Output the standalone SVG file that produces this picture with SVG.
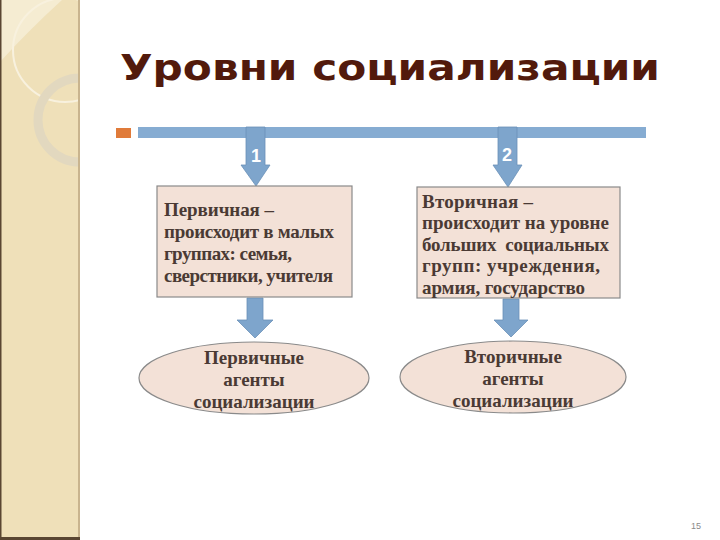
<svg xmlns="http://www.w3.org/2000/svg" width="720" height="540" viewBox="0 0 720 540">
<style>
.box{fill:#f3e1d7;stroke:#8a8a8a;stroke-width:1.2}
.arr{fill:#7ea5cc;stroke:#6b90b8;stroke-width:0.8}
.t{font-family:"Liberation Serif","Times New Roman",serif;font-weight:bold;font-size:19px;fill:#4a3a34;white-space:pre}
.c{text-anchor:middle}
.num{font-family:"Liberation Sans",Arial,sans-serif;font-weight:bold;font-size:18px;fill:#ffffff;text-anchor:middle}
</style>
<defs>
<clipPath id="sb"><rect x="0" y="0" width="80" height="540"/></clipPath>
</defs>
<rect width="720" height="540" fill="#ffffff"/>
<g id="sidebar">
<rect x="0" y="0" width="80" height="540" fill="#efe0b9"/>
<g clip-path="url(#sb)">
<path d="M0,0 L62,0 C40,20 20,40 0,62 Z" fill="#f5ecd2"/>
<circle cx="65" cy="50" r="52" fill="none" stroke="#f8f1de" stroke-width="2"/>
<circle cx="80" cy="120" r="42" fill="none" stroke="#e2d8bf" stroke-width="9"/>
</g>
<rect x="0" y="0" width="1.5" height="540" fill="#5a4632"/>
<rect x="78" y="0" width="2" height="540" fill="#c9b48e"/>
<rect x="0" y="537" width="80" height="3" fill="#5a4632"/>
</g>
<g id="title">
<text x="120" y="80" font-family="DejaVu Sans, Verdana, sans-serif" font-weight="bold" font-size="36" fill="#521a0c" textLength="540" lengthAdjust="spacingAndGlyphs">Уровни социализации</text>
</g>
<g id="bar">
<rect x="116" y="128" width="15" height="10" fill="#e07b3a"/>
<rect x="138" y="127" width="508" height="11" fill="#86acd2"/>
</g>
<g id="connectors">
<path class="arr" d="M246,127 H265 V165 H270 L256,186 L241,165 H246 Z"/>
<path class="arr" d="M498,127 H517 V165 H522 L508,187 L493,165 H498 Z"/>
<path class="arr" d="M247,298 H263 V320 H273 L255,338 L237,320 H247 Z"/>
<path class="arr" d="M503,299 H519 V320 H528 L511,337 L494,320 H503 Z"/>
<text class="num" x="256" y="162">1</text>
<text class="num" x="507" y="161">2</text>
</g>
<g id="box1">
<rect class="box" x="157" y="186" width="195" height="111"/>
<text class="t" x="164" y="216" textLength="110">Первичная –</text>
<text class="t" x="164" y="238" textLength="170">происходит в малых</text>
<text class="t" x="164" y="260" textLength="128">группах: семья,</text>
<text class="t" x="164" y="282" textLength="169">сверстники, учителя</text>
</g>
<g id="box2">
<rect class="box" x="417" y="187" width="203" height="111"/>
<text class="t" x="422" y="208" textLength="111">Вторичная –</text>
<text class="t" x="422" y="229" textLength="187">происходит на уровне</text>
<text class="t" x="422" y="251" textLength="187" xml:space="preserve">больших  социальных</text>
<text class="t" x="422" y="272" textLength="178">групп: учреждения,</text>
<text class="t" x="422" y="294" textLength="163">армия, государство</text>
</g>
<g id="ellipse1">
<ellipse class="box" cx="254" cy="378" rx="115" ry="36"/>
<text class="t c" x="254" y="364">Первичные</text>
<text class="t c" x="254" y="386">агенты</text>
<text class="t c" x="254" y="408">социализации</text>
</g>
<g id="ellipse2">
<ellipse class="box" cx="513" cy="377" rx="113" ry="36"/>
<text class="t c" x="513" y="363">Вторичные</text>
<text class="t c" x="513" y="385">агенты</text>
<text class="t c" x="513" y="407">социализации</text>
</g>
<text x="696" y="529" font-family="Liberation Sans, Arial, sans-serif" font-size="9" fill="#8a8a8a" text-anchor="middle">15</text>
</svg>
